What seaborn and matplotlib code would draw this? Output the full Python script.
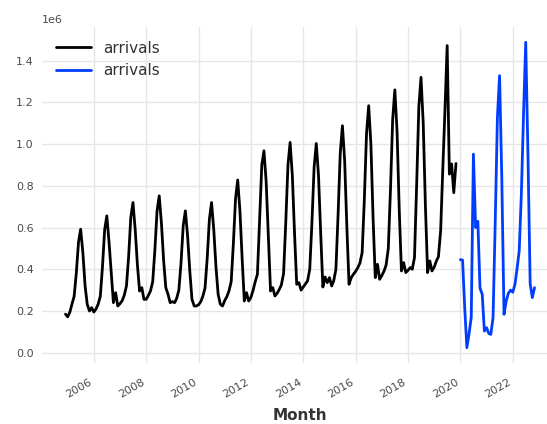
import numpy as np
import pandas as pd
import matplotlib
matplotlib.use("Agg")
import matplotlib.pyplot as plt
import matplotlib.dates as mdates
import seaborn as sns

# ---- data (values in millions of arrivals) ----
train_start = "2004-12-01"
train_vals = [
    0.185,
    # 2005
    0.172, 0.195, 0.232, 0.270, 0.380, 0.530, 0.592, 0.480, 0.320, 0.232, 0.200, 0.216,
    # 2006
    0.195, 0.210, 0.232, 0.270, 0.410, 0.590, 0.656, 0.530, 0.380, 0.240, 0.288, 0.224,
    # 2007
    0.235, 0.250, 0.275, 0.320, 0.460, 0.650, 0.720, 0.590, 0.420, 0.296, 0.312, 0.256,
    # 2008
    0.256, 0.275, 0.296, 0.340, 0.490, 0.680, 0.752, 0.620, 0.440, 0.312, 0.280, 0.240,
    # 2009
    0.245, 0.240, 0.260, 0.300, 0.430, 0.610, 0.680, 0.560, 0.390, 0.256, 0.224, 0.224,
    # 2010
    0.230, 0.245, 0.270, 0.310, 0.450, 0.640, 0.720, 0.590, 0.410, 0.280, 0.232, 0.224,
    # 2011
    0.250, 0.270, 0.296, 0.340, 0.520, 0.740, 0.828, 0.680, 0.450, 0.248, 0.288, 0.248,
    # 2012
    0.265, 0.300, 0.340, 0.376, 0.640, 0.900, 0.968, 0.820, 0.550, 0.296, 0.312, 0.272,
    # 2013
    0.285, 0.304, 0.325, 0.380, 0.620, 0.900, 1.008, 0.850, 0.570, 0.328, 0.336, 0.300,
    # 2014
    0.315, 0.330, 0.344, 0.400, 0.620, 0.890, 1.003, 0.850, 0.570, 0.315, 0.363, 0.336,
    # 2015
    0.360, 0.320, 0.344, 0.400, 0.660, 0.960, 1.088, 0.920, 0.600, 0.328, 0.360, 0.376,
    # 2016
    0.390, 0.408, 0.430, 0.480, 0.730, 1.050, 1.184, 1.000, 0.640, 0.360, 0.424, 0.352,
    # 2017
    0.370, 0.392, 0.420, 0.500, 0.780, 1.120, 1.260, 1.060, 0.680, 0.392, 0.432, 0.384,
    # 2018
    0.395, 0.408, 0.400, 0.456, 0.800, 1.180, 1.320, 1.100, 0.700, 0.384, 0.440, 0.392,
    # 2019
    0.410, 0.440, 0.460, 0.584, 0.880, 1.170, 1.472, 0.856, 0.905, 0.767, 0.907,
]

val_start = "2020-01-01"
val_vals = [
    # 2020
    0.446, 0.444, 0.220, 0.024, 0.090, 0.170, 0.952, 0.600, 0.630, 0.310, 0.280, 0.104,
    # 2021
    0.120, 0.092, 0.088, 0.168, 0.620, 1.128, 1.328, 0.840, 0.184, 0.248, 0.285, 0.300,
    # 2022
    0.290, 0.328, 0.400, 0.488, 0.760, 1.150, 1.488, 0.950, 0.330, 0.264, 0.312,
]

series_label = "arrivals"
x_label = "Month"

train_df = pd.DataFrame({
    "Month": pd.date_range(train_start, periods=len(train_vals), freq="MS"),
    "arrivals": np.array(train_vals) * 1e6,
})
val_df = pd.DataFrame({
    "Month": pd.date_range(val_start, periods=len(val_vals), freq="MS"),
    "arrivals": np.array(val_vals) * 1e6,
})

# ---- style ----
sns.set_style("white")
plt.rcParams["font.family"] = ["DejaVu Sans"]

fig = plt.figure(figsize=(5.47, 4.24), dpi=100)
ax = fig.add_axes([42 / 547, 61 / 424, 516 / 547, 336 / 424])

sns.lineplot(data=train_df, x="Month", y="arrivals", ax=ax, color="#000000",
             lw=2, label=series_label)
sns.lineplot(data=val_df, x="Month", y="arrivals", ax=ax, color="#003DFD",
             lw=2, label=series_label)

ax.grid(True, color="#e6e6e6", lw=1.0)
ax.set_axisbelow(True)
for s in ax.spines.values():
    s.set_visible(False)

ax.xaxis.set_major_locator(mdates.YearLocator(2))
ax.xaxis.set_major_formatter(mdates.DateFormatter("%Y"))
for lab in ax.get_xticklabels():
    lab.set_rotation(30)
    lab.set_ha("right")

ax.tick_params(axis="x", length=0, labelsize=8, colors="#4a4a4a", pad=10)
ax.tick_params(axis="y", length=3, width=0.8, color="#777777", labelsize=8,
               labelcolor="#4a4a4a", pad=3)
ax.yaxis.get_offset_text().set_fontsize(8)
ax.yaxis.get_offset_text().set_color("#4a4a4a")

ax.set_xlabel(x_label, fontsize=11, fontweight="bold", color="#333333",
              labelpad=6)
ax.set_ylabel("")

leg = ax.legend(loc="upper left", frameon=False, fontsize=11, handlelength=2.3)
for t in leg.get_texts():
    t.set_color("#333333")

fig.savefig("out.png", dpi=100)
